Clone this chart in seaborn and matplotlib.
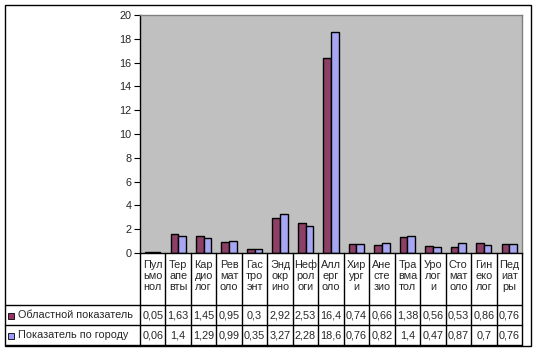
import matplotlib
matplotlib.use("Agg")
import matplotlib.pyplot as plt
import matplotlib.transforms as mtransforms
from matplotlib.lines import Line2D
from matplotlib.patches import Rectangle
import pandas as pd
import seaborn as sns

categories = ["Пульмонол", "Терапевты", "Кардиолог", "Ревматоло", "Гастроэнт",
              "Эндокрино", "Нефрологи", "Аллерголо", "Хирурги", "Анестезио",
              "Травматол", "Урологи", "Стоматоло", "Гинеколог", "Педиатры"]
series_names = ["Областной показатель", "Показатель по городу"]
oblast = [0.05, 1.63, 1.45, 0.95, 0.3, 2.92, 2.53, 16.4, 0.74, 0.66, 1.38, 0.56, 0.53, 0.86, 0.76]
city = [0.06, 1.4, 1.29, 0.99, 0.35, 3.27, 2.28, 18.6, 0.76, 0.82, 1.4, 0.47, 0.87, 0.7, 0.76]
colors = ["#993366", "#9999ff"]

df = pd.DataFrame({
    "cat": categories * 2,
    "val": oblast + city,
    "series": [series_names[0]] * len(categories) + [series_names[1]] * len(categories),
})

sns.set_theme(style="white")
plt.rcParams["font.family"] = ["Liberation Sans", "DejaVu Sans"]
fs = 7.8

W, H = 538, 351
fig = plt.figure(figsize=(W / 100, H / 100), dpi=100)
fx = lambda x: x / W
fy = lambda y: 1 - y / H

ax = fig.add_axes([fx(140), fy(253), fx(522) - fx(140), fy(15) - fy(253)])
ax.set_facecolor("#c0c0c0")
sns.barplot(data=df, x="cat", y="val", hue="series", palette=colors,
            width=0.6, edgecolor="black", linewidth=1.0, legend=False, ax=ax)
ax.set_xlim(-0.5, len(categories) - 0.5)
ax.set_ylim(0, 20)
ax.set_yticks(range(0, 21, 2))
ax.set_xticks([])
ax.set_xlabel("")
ax.set_ylabel("")
ax.tick_params(axis="y", direction="out", length=4, width=0.8, color="black",
               labelsize=fs, pad=2, left=True)
for side in ["top", "right"]:
    ax.spines[side].set_color("#808080")
    ax.spines[side].set_linewidth(1)
for side in ["left", "bottom"]:
    ax.spines[side].set_color("black")
    ax.spines[side].set_linewidth(1.0)

# outer chart border
fig.add_artist(Rectangle((fx(5), fy(346)), fx(531) - fx(5), fy(5) - fy(346),
                         transform=fig.transFigure, fill=False, edgecolor="black", lw=1))

# data table under the plot
tr = mtransforms.blended_transform_factory(ax.transData, fig.transFigure)
n = len(categories)
y_top, y_r1, y_r2, y_bot = 253, 305, 325, 345
for i in range(n + 1):
    fig.add_artist(Line2D([i - 0.5, i - 0.5], [fy(y_top), fy(y_bot)], transform=tr,
                          color="black", lw=1.0))
for yy in (y_r1, y_r2, y_bot):
    fig.add_artist(Line2D([fx(5), fx(522)], [fy(yy), fy(yy)], transform=fig.transFigure,
                          color="black", lw=1.0))

for i, name in enumerate(categories):
    parts = [name[k:k + 3] for k in range(0, len(name), 3)]
    for j, p in enumerate(parts):
        fig.text(i, fy(265 + j * 10.8), p, transform=tr, ha="center", va="center", fontsize=fs)
    for vals, yc in ((oblast, 315.5), (city, 335.5)):
        fig.text(i, fy(yc), f"{vals[i]:g}".replace(".", ","), transform=tr,
                 ha="center", va="center", fontsize=fs)

for name, col, yc in zip(series_names, colors, (315.5, 335.5)):
    fig.add_artist(Rectangle((fx(8), fy(yc + 3)), fx(6), fx(6) * W / H,
                             transform=fig.transFigure, facecolor=col,
                             edgecolor="black", lw=0.6))
    fig.text(fx(18), fy(yc), name, ha="left", va="center", fontsize=fs)

fig.savefig("out.png", dpi=100)
